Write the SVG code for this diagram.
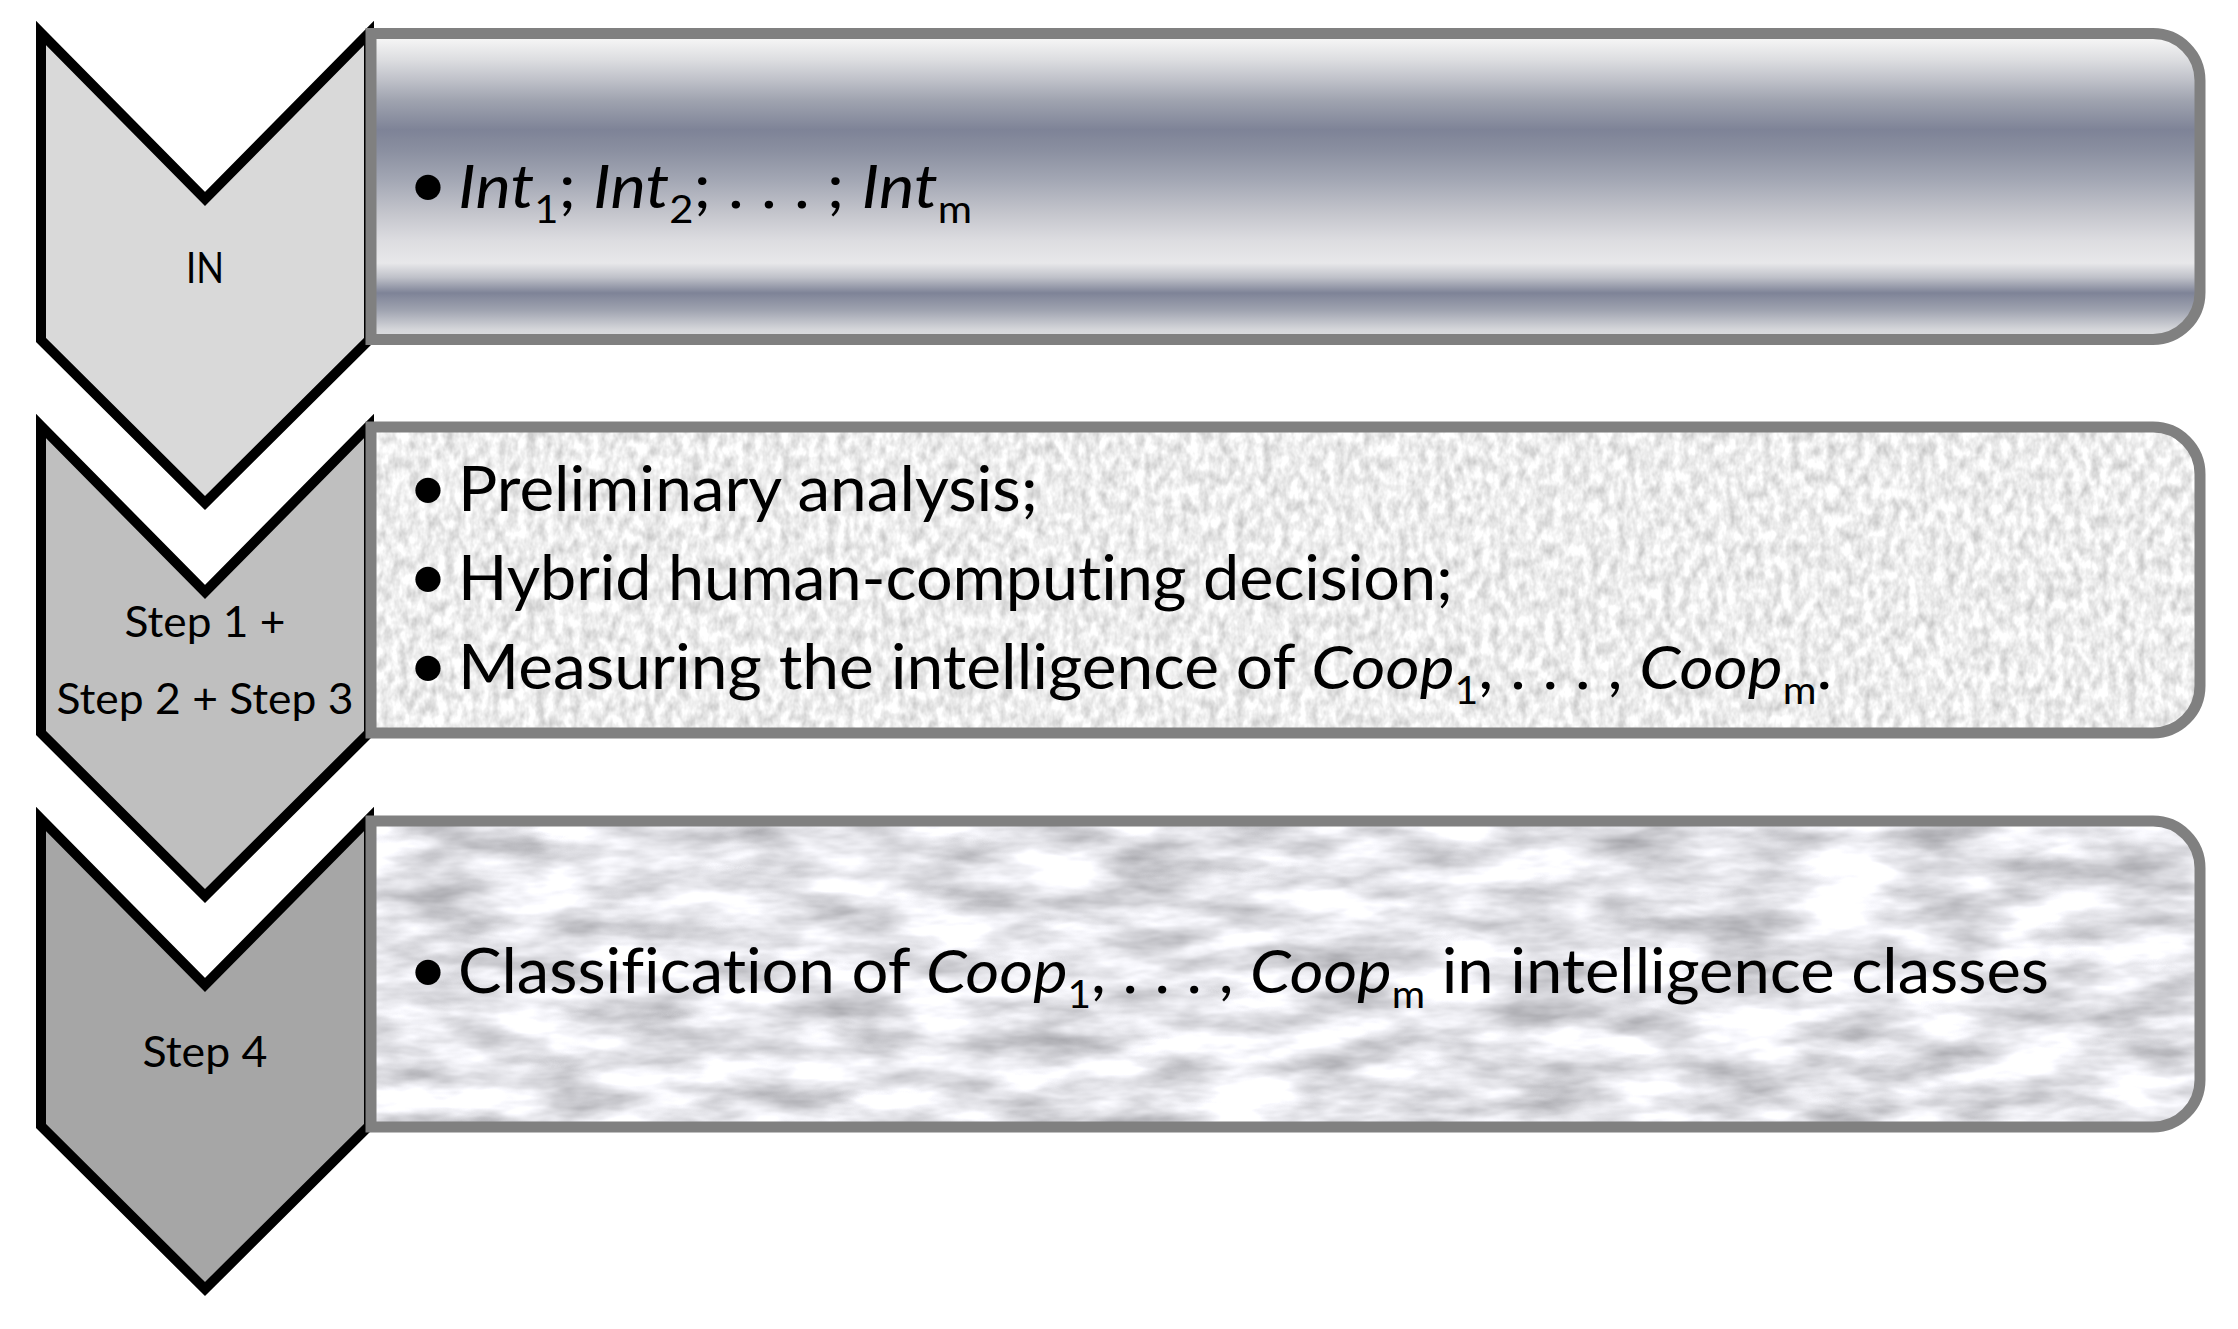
<svg xmlns="http://www.w3.org/2000/svg" width="2238" height="1329" viewBox="0 0 2238 1329">
<defs>
<style>
.chev{stroke:#000;stroke-width:10;stroke-linejoin:miter}
.box{stroke:#808080;stroke-width:11;fill:none}
.lbl{font-family:Lato,"Liberation Sans",sans-serif;font-size:43px;text-anchor:middle;fill:#000;font-variant-ligatures:none}
.txt{font-family:Lato,"Liberation Sans",sans-serif;font-size:61px;fill:#000;font-variant-ligatures:none}
.bul{font-family:Lato,"Liberation Sans",sans-serif;font-size:68px;text-anchor:middle;fill:#000}
.it{font-style:italic}
.sub{font-size:38px}
</style>
<linearGradient id="metal" x1="0" y1="0" x2="0" y2="1">
<stop offset="0" stop-color="#f7f7f7"/>
<stop offset="0.018" stop-color="#f5f5f5"/>
<stop offset="0.087" stop-color="#dcdde0"/>
<stop offset="0.152" stop-color="#bfc1c9"/>
<stop offset="0.217" stop-color="#a0a4b0"/>
<stop offset="0.315" stop-color="#7e8397"/>
<stop offset="0.381" stop-color="#8a8fa0"/>
<stop offset="0.479" stop-color="#a3a7b4"/>
<stop offset="0.587" stop-color="#c4c5cc"/>
<stop offset="0.675" stop-color="#dcdce0"/>
<stop offset="0.75" stop-color="#e8e8ea"/>
<stop offset="0.797" stop-color="#bfc1c9"/>
<stop offset="0.848" stop-color="#7e8397"/>
<stop offset="0.904" stop-color="#9fa3b0"/>
<stop offset="0.967" stop-color="#d5d6da"/>
<stop offset="1" stop-color="#dcdde0"/>
</linearGradient>
<filter id="speckle" x="0" y="0" width="1" height="1" color-interpolation-filters="sRGB">
<feTurbulence type="fractalNoise" baseFrequency="0.11 0.07" numOctaves="3" seed="4"/>
<feColorMatrix type="matrix" values="0.38 0 0 0 0.74  0.38 0 0 0 0.74  0.38 0 0 0 0.74  0 0 0 0 1"/>
</filter>
<filter id="marble" x="0" y="0" width="1" height="1" color-interpolation-filters="sRGB">
<feTurbulence type="fractalNoise" baseFrequency="0.01 0.035" numOctaves="4" seed="9"/>
<feColorMatrix type="matrix" values="0.6 0 0 0 0.6  0.6 0 0 0 0.6  0.6 0 0 0 0.62  0 0 0 0 1"/>
</filter>
<clipPath id="clip2"><path d="M371,427 H2153 A47,47 0 0 1 2200,474 V686 A47,47 0 0 1 2153,733 H371 Z"/></clipPath>
<clipPath id="clip3"><path d="M371,821 H2153 A47,47 0 0 1 2200,868 V1080 A47,47 0 0 1 2153,1127 H371 Z"/></clipPath>
</defs>
<rect width="2238" height="1329" fill="#fff"/>
<g id="connectors"/>

<g id="chevron-in">
<path class="chev" fill="#d9d9d9" d="M41,33 L205,199 L369,33 L369,340 L205,503 L41,340 Z"/>
<text class="lbl" x="205" y="283" textLength="38" lengthAdjust="spacingAndGlyphs">IN</text>
</g>
<g id="chevron-step123">
<path class="chev" fill="#bfbfbf" d="M41,426 L205,592 L369,426 L369,733 L205,896 L41,733 Z"/>
<text class="lbl" x="205" y="637" textLength="161" lengthAdjust="spacingAndGlyphs">Step 1 +</text>
<text class="lbl" x="205" y="714" textLength="297" lengthAdjust="spacingAndGlyphs">Step 2 + Step 3</text>
</g>
<g id="chevron-step4">
<path class="chev" fill="#a6a6a6" d="M41,819 L205,985 L369,819 L369,1126 L205,1289 L41,1126 Z"/>
<text class="lbl" x="205" y="1067" textLength="125" lengthAdjust="spacingAndGlyphs">Step 4</text>
</g>

<g id="box-in">
<path class="box" style="fill:url(#metal)" d="M371,33.5 H2153 A47,47 0 0 1 2200,80.5 V292.5 A47,47 0 0 1 2153,339.5 H371 Z"/>
<text class="bul" x="428" y="208">•</text>
<text class="txt" x="458" y="208" textLength="514" lengthAdjust="spacingAndGlyphs"><tspan class="it">Int</tspan><tspan class="sub" dy="15">1</tspan><tspan dy="-15">; </tspan><tspan class="it">Int</tspan><tspan class="sub" dy="15">2</tspan><tspan dy="-15">; . . . ; </tspan><tspan class="it">Int</tspan><tspan class="sub" dy="15">m</tspan></text>
</g>

<g id="box-step123">
<rect x="360" y="420" width="1850" height="320" filter="url(#speckle)" clip-path="url(#clip2)"/>
<path class="box" d="M371,427 H2153 A47,47 0 0 1 2200,474 V686 A47,47 0 0 1 2153,733 H371 Z"/>
<text class="bul" x="428" y="511">•</text>
<text class="txt" x="458" y="511" textLength="580" lengthAdjust="spacingAndGlyphs">Preliminary analysis;</text>
<text class="bul" x="428" y="600">•</text>
<text class="txt" x="458" y="600" textLength="995" lengthAdjust="spacingAndGlyphs">Hybrid human-computing decision;</text>
<text class="bul" x="428" y="689">•</text>
<text class="txt" x="458" y="689" textLength="1374" lengthAdjust="spacingAndGlyphs">Measuring the intelligence of <tspan class="it">Coop</tspan><tspan class="sub" dy="15">1</tspan><tspan dy="-15">, . . . , </tspan><tspan class="it">Coop</tspan><tspan class="sub" dy="15">m</tspan><tspan dy="-15">.</tspan></text>
</g>

<g id="box-step4">
<rect x="360" y="814" width="1850" height="320" filter="url(#marble)" clip-path="url(#clip3)"/>
<path class="box" d="M371,821 H2153 A47,47 0 0 1 2200,868 V1080 A47,47 0 0 1 2153,1127 H371 Z"/>
<text class="bul" x="428" y="993">•</text>
<text class="txt" x="458" y="993" textLength="1591" lengthAdjust="spacingAndGlyphs">Classification of <tspan class="it">Coop</tspan><tspan class="sub" dy="15">1</tspan><tspan dy="-15">, . . . , </tspan><tspan class="it">Coop</tspan><tspan class="sub" dy="15">m</tspan><tspan dy="-15"> in intelligence classes</tspan></text>
</g>
</svg>
